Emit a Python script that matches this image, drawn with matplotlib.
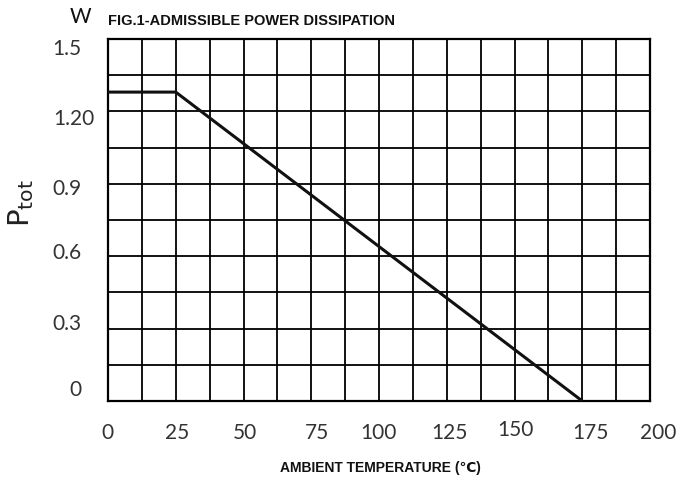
import matplotlib
matplotlib.use("Agg")
import matplotlib.pyplot as plt
import matplotlib.transforms as mtrans
import numpy as np

# Data
temps = [0, 25, 175]
power = [1.28, 1.28, 0.0]
x_ticks = [0, 25, 50, 75, 100, 125, 150, 175, 200]
x_labels = ["0", "25", "50", "75", "100", "125", "150", "175", "200"]
y_ticks = [0, 0.3, 0.6, 0.9, 1.2, 1.5]
y_labels = ["0", "0.3", "0.6", "0.9", "1.20", "1.5"]

fig = plt.figure(figsize=(6.82, 4.82), dpi=100)
ax = fig.add_axes([108/682, 1-401/482, 542/682, 362/482])

ax.set_xlim(0, 200)
ax.set_ylim(0, 1.5)

# grid
for gx in np.arange(12.5, 200, 12.5):
    ax.axvline(gx, color="black", lw=1.3, zorder=1)
for gy in np.arange(0.15, 1.5, 0.15):
    ax.axhline(gy, color="black", lw=1.3, zorder=1)
for s in ax.spines.values():
    s.set_linewidth(1.6)

ax.plot(temps, power, color="#111111", lw=2.2, zorder=3, solid_capstyle="butt")

tick_font = dict(family=["Lato", "DejaVu Sans"], size=15, color="#333333")
ax.set_xticks(x_ticks)
ax.set_xticklabels(x_labels, **tick_font)
ax.set_yticks(y_ticks)
ax.set_yticklabels(y_labels, **tick_font)
ax.tick_params(length=0)
ax.tick_params(axis="x", pad=16)
ax.tick_params(axis="y", pad=19)

# small offsets (pixels) of the hand-placed labels
x_off = {0: (-1, 0), 25: (1, 0), 50: (1, 0), 75: (6, 0), 100: (-1, 0), 125: (3, 0),
         150: (1, 3), 175: (8, 0), 200: (8, 0)}
y_off = {0: (0, 13), 0.3: (0, 7), 0.6: (0, 5), 0.9: (0, -3), 1.2: (13, -6), 1.5: (0, -8)}
for lbl, t in zip(ax.get_xticklabels(), x_ticks):
    dx, dy = x_off[t]
    lbl.set_transform(lbl.get_transform() + mtrans.ScaledTranslation(dx/100, dy/100, fig.dpi_scale_trans))
for lbl, t in zip(ax.get_yticklabels(), y_ticks):
    dx, dy = y_off[t]
    lbl.set_transform(lbl.get_transform() + mtrans.ScaledTranslation(dx/100, dy/100, fig.dpi_scale_trans))

bold = dict(family=["Liberation Sans", "DejaVu Sans"], weight="bold", color="#111111")
fig.text(108/682, 1-25/482, "FIG.1-ADMISSIBLE POWER DISSIPATION", ha="left", va="baseline",
         size=10.5, **bold)
fig.text(380/682, 1-472/482, "AMBIENT TEMPERATURE (\u2103)", ha="center", va="baseline",
         size=10, **bold)
fig.text(80/682, 1-17/482, "W", ha="center", va="center", size=15,
         family=["Lato", "DejaVu Sans"], color="#111111")
plt.rcParams["mathtext.fontset"] = "dejavusans"
fig.text(21/682, 1-203/482, r"$\mathregular{P_{tot}}$", ha="center", va="center", size=21,
         rotation=90, color="#222222")

fig.savefig("out.png", dpi=100)
